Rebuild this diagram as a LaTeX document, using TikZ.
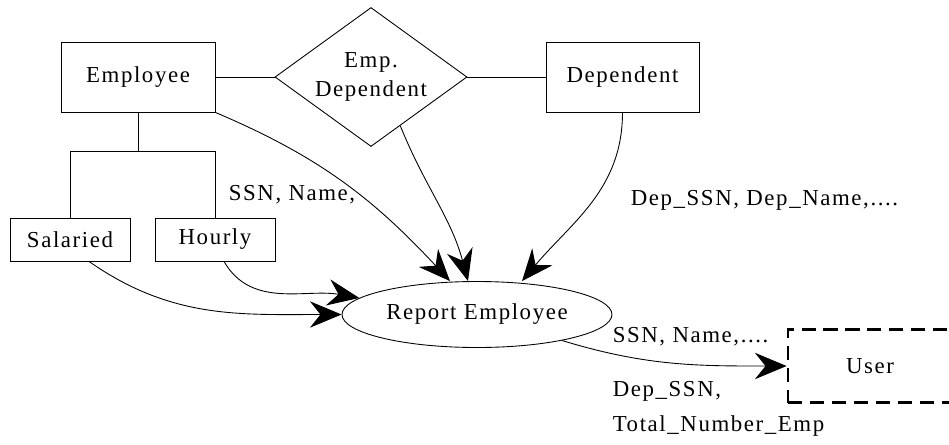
\documentclass[tikz,border=0pt]{standalone}
\usepackage{fontspec}
\setmainfont{Liberation Serif}[LetterSpace=7]
\usetikzlibrary{shapes.geometric, arrows.meta, positioning}
\tikzset{
    entity/.style={rectangle, draw=black, line width=0.5pt, text centered},
    relation/.style={diamond, aspect=1.38, draw=black, line width=0.5pt, align=center, inner sep=0pt},
    process/.style={ellipse, draw=black, line width=0.5pt, inner sep=0pt},
    external/.style={rectangle, draw=black, line width=1.6pt, dash pattern=on 8pt off 4.5pt},
    flowtext/.style={inner sep=0pt, text height=9pt, text depth=3pt},
    link/.style={line width=0.5pt},
    arrow/.style={line width=0.5pt, -{Stealth[length=18pt, width=15pt, inset=6pt]}}
}

\begin{document}
\begin{tikzpicture}[node distance=1.5cm, font=\fontsize{13}{17}\selectfont]
    \useasboundingbox (-2.76,1.54) rectangle (16.22,-7.34);

    \node (emp) [entity, minimum width=3.08cm, minimum height=1.4cm] {Employee};
    \node (rel) [relation, minimum width=3.84cm, minimum height=2.78cm, right of=emp, xshift=3.16cm] {Emp.\\Dependent};
    \node (dep) [entity, minimum width=3.06cm, minimum height=1.4cm, right of=rel, xshift=3.53cm] {Dependent};
    \node (sal) [entity, minimum width=2.4cm, minimum height=0.86cm, below of=emp, xshift=-1.36cm, yshift=-1.75cm] {Salaried};
    \node (hour) [entity, minimum width=2.4cm, minimum height=0.86cm, right of=sal, xshift=1.4cm] {Hourly};
    \node (rep) [process, minimum width=5.4cm, minimum height=1.32cm, below of=hour, xshift=5.24cm] {Report Employee};
    \node (user) [external, minimum width=3.28cm, minimum height=1.46cm, right of=rep, xshift=6.36cm, yshift=-1.03cm] {User};

    % data flow labels
    \node (attrA) [flowtext, below of=emp, xshift=3.08cm, yshift=-0.86cm] {SSN, Name,};
    \node (attrB) [flowtext, below of=dep, xshift=2.84cm, yshift=-0.96cm] {Dep\_SSN, Dep\_Name,....};
    \node (outA) [flowtext, anchor=west, yshift=-0.46cm] at (rep.east) {SSN, Name,....};
    \node (outB) [flowtext, anchor=west, yshift=-1.54cm] at (rep.east) {Dep\_SSN,};
    \node (outC) [flowtext, anchor=west, yshift=-2.24cm] at (rep.east) {Total\_Number\_Emp};

    % relationship and is-a tree
    \draw [link] (emp.east) -- (rel.west);
    \draw [link] (rel.east) -- (dep.west);
    \draw [link] (emp.south) -- ++(0,-0.78) coordinate (fork);
    \draw [link] (sal.north) |- (fork) -| (hour.north);

    % flows into and out of the report
    \draw [arrow] (emp.south east) to[out=-23, in=133] ([xshift=-0.54cm]rep.north);
    \draw [arrow] (rel.-59) to[out=-68, in=105] ([xshift=-0.18cm]rep.north);
    \draw [arrow] (dep.south) to[out=-90, in=50] ([xshift=0.9cm]rep.north);
    \draw [arrow] ([xshift=0.18cm]hour.south) to[out=-60, in=170] (rep.172);
    \draw [arrow] ([xshift=0.38cm]sal.south) to[out=-35, in=180] (rep.west);
    \draw [arrow] (rep.-17) to[out=-17, in=180] (user.west);
\end{tikzpicture}
\end{document}
